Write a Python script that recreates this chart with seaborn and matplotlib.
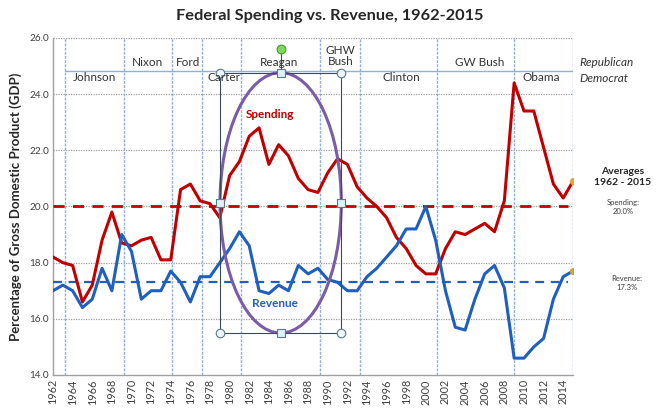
import numpy as np
import pandas as pd
import matplotlib
matplotlib.use("Agg")
import matplotlib.pyplot as plt
import seaborn as sns
from matplotlib.patches import Ellipse, Rectangle

# ── Data ─────────────────────────────────────────────────────────────────────
years = list(range(1962, 2016))
spending = [18.2, 18.0, 17.9, 16.6, 17.2, 18.8, 19.8, 18.7, 18.6, 18.8,
            18.9, 18.1, 18.1, 20.6, 20.8, 20.2, 20.1, 19.6, 21.1, 21.6,
            22.5, 22.8, 21.5, 22.2, 21.8, 21.0, 20.6, 20.5, 21.2, 21.7,
            21.5, 20.7, 20.3, 20.0, 19.6, 18.9, 18.5, 17.9, 17.6, 17.6,
            18.5, 19.1, 19.0, 19.2, 19.4, 19.1, 20.2, 24.4, 23.4, 23.4,
            22.1, 20.8, 20.3, 20.9]
revenue = [17.0, 17.2, 17.0, 16.4, 16.7, 17.8, 17.0, 19.0, 18.4, 16.7,
           17.0, 17.0, 17.7, 17.3, 16.6, 17.5, 17.5, 18.0, 18.5, 19.1,
           18.6, 17.0, 16.9, 17.2, 17.0, 17.9, 17.6, 17.8, 17.4, 17.3,
           17.0, 17.0, 17.5, 17.8, 18.2, 18.6, 19.2, 19.2, 20.0, 18.8,
           17.0, 15.7, 15.6, 16.7, 17.6, 17.9, 17.1, 14.6, 14.6, 15.0,
           15.3, 16.7, 17.5, 17.7]
avg_spending = 20.0
avg_revenue = 17.3

# presidential terms
term_starts = [1963.2, 1969.2, 1974.1, 1977.2, 1981.2, 1989.2, 1993.3, 2001.1, 2009.0, 2015.0]
presidents = ["Johnson", "Nixon", "Ford", "Carter", "Reagan", "GHW\nBush",
              "Clinton", "GW Bush", "Obama"]
label_x = [1966.2, 1971.6, 1975.8, 1979.4, 1985.0, 1991.3, 1997.5, 2005.5, 2011.8]
party = ["D", "R", "R", "D", "R", "R", "D", "R", "D"]

df = pd.DataFrame({"Year": years * 2,
                   "Value": spending + revenue,
                   "Series": ["Spending"] * len(years) + ["Revenue"] * len(years)})

# ── Style ────────────────────────────────────────────────────────────────────
sns.set_theme(style="white")
plt.rcParams["font.family"] = ["Lato", "DejaVu Sans"]

RED = "#c00000"
BLUE = "#1f5fc0"
PURPLE = "#7a5ca8"
VLINE = "#8fb0dc"

fig = plt.figure(figsize=(6.61, 4.16), dpi=100)
ax = fig.add_axes([0.0802, 0.0986, 0.7867, 0.8101])

sns.lineplot(data=df, x="Year", y="Value", hue="Series",
             palette={"Spending": RED, "Revenue": BLUE},
             linewidth=2.2, ax=ax, legend=False, zorder=4)

# averages
ax.plot([1962, 2014.5], [avg_spending] * 2, color=RED, lw=2, ls=(0, (4, 3)), zorder=3)
ax.plot([1962, 2014.5], [avg_revenue] * 2, color=BLUE, lw=1.6, ls=(0, (4, 3)), zorder=3)
ax.scatter([years[-1]], [spending[-1]], s=18, color="#e8a33c", zorder=6)
ax.scatter([years[-1]], [revenue[-1]], s=18, color="#c9a645", zorder=6)

ax.set_xlim(1962, 2015)
ax.set_ylim(14, 26)
ax.set_yticks(np.arange(14, 26.1, 2))
ax.set_yticklabels([f"{v:.1f}" for v in np.arange(14, 26.1, 2)], fontsize=7.2, color="#404040")
ax.set_xticks(range(1962, 2015, 2))
ax.set_xticklabels([str(y) for y in range(1962, 2015, 2)], rotation=90, fontsize=7.8, color="#404040")
ax.tick_params(axis="both", length=0, pad=3)
ax.set_xlabel("")
ax.set_ylabel("Percentage of Gross Domestic Product (GDP)", fontsize=9.5, fontweight="bold", labelpad=5)

for y in np.arange(16, 26.1, 2):
    ax.axhline(y, color="#a0a0a0", lw=0.9, ls=(0, (1, 1)), zorder=1)
for s in ["top", "right"]:
    ax.spines[s].set_visible(False)
for s in ["left", "bottom"]:
    ax.spines[s].set_color("#a0a0a0")
    ax.spines[s].set_linewidth(1)

for x in term_starts:
    ax.axvline(x, color=VLINE, lw=1, ls=(0, (2, 1)), zorder=1)
ax.plot([term_starts[0], 2015], [24.84, 24.84], color=VLINE, lw=1, zorder=1)

for name, x, p in zip(presidents, label_x, party):
    y = 25.11 if p == "R" else 24.58
    if "\n" in name:
        y = 25.36
    ax.text(x, y, name, ha="center", va="center", fontsize=8.5, color="#333333",
            linespacing=1.1, zorder=8)

# annotation shapes
ell_cx, ell_cy, ell_w, ell_h = 1985.2, 20.13, 12.36, 9.27
ax.add_patch(Ellipse((ell_cx, ell_cy), ell_w, ell_h, fill=False, ec=PURPLE, lw=2.2, zorder=5))
ax.add_patch(Rectangle((ell_cx - ell_w / 2, ell_cy - ell_h / 2), ell_w, ell_h,
                       fill=False, ec="#3b4a5a", lw=0.8, zorder=5))
ax.plot([ell_cx, ell_cx], [ell_cy + ell_h / 2, 25.6], color="#3b4a5a", lw=0.8, zorder=5)
ax.scatter([ell_cx], [25.6], s=40, color="#7ed957", ec="#4a9a30", lw=0.8, zorder=7)
xs = [ell_cx - ell_w / 2, ell_cx + ell_w / 2]
ys = [ell_cy - ell_h / 2, ell_cy + ell_h / 2]
for cx in xs:
    for cy in ys:
        ax.scatter([cx], [cy], s=38, color="#eef6fb", ec="#5a7a8a", lw=0.8, zorder=7)
for cx, cy in [(ell_cx, ys[0]), (ell_cx, ys[1]), (xs[0], ell_cy), (xs[1], ell_cy)]:
    ax.scatter([cx], [cy], s=30, marker="s", color="#dff0f8", ec="#5a7a8a", lw=0.8, zorder=7)

ax.text(1984.1, 23.26, "Spending", color=RED, fontsize=8.5, fontweight="bold", ha="center", va="center", zorder=6)
ax.text(1984.6, 16.53, "Revenue", color=BLUE, fontsize=8.5, fontweight="bold", ha="center", va="center", zorder=6)

# right side texts
fig.text(579 / 661, 1 - 63 / 416, "Republican", fontsize=8.5, style="italic", color="#333333", va="center")
fig.text(579 / 661, 1 - 78 / 416, "Democrat", fontsize=8.5, style="italic", color="#333333", va="center")
fig.text(623 / 661, 1 - 177 / 416, "Averages\n1962 - 2015", fontsize=7.5, fontweight="bold",
         ha="center", va="center", linespacing=1.2)
fig.text(623 / 661, 1 - 207 / 416, "Spending:\n20.0%", fontsize=5.5, ha="center", va="center",
         color="#404040", linespacing=1.3)
fig.text(627 / 661, 1 - 283 / 416, "Revenue:\n17.3%", fontsize=5.5, ha="center", va="center",
         color="#404040", linespacing=1.3)

fig.text(330 / 661, 1 - 16 / 416, "Federal Spending vs. Revenue, 1962-2015", fontsize=11.8,
         fontweight="bold", ha="center", va="center")

fig.savefig("out.png", dpi=100)
